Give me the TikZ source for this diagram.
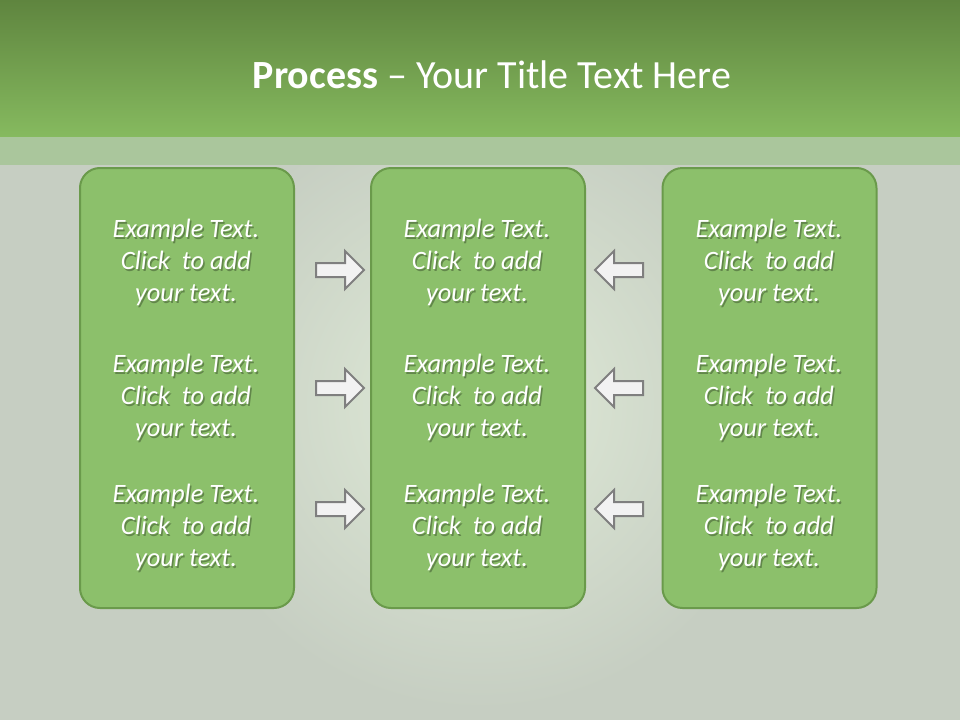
\documentclass[tikz,border=0pt]{standalone}
\usepackage{fontspec}
\setmainfont{Carlito}
\usetikzlibrary{shapes.arrows}
\tikzset{
  panel/.style={draw=panelline,fill=panelfill,line width=2pt,rounded corners=20pt,
    minimum width=214pt,minimum height=440pt,inner sep=0pt},
  bodytext/.style={text=white,align=center,font=\fontsize{26.5}{32}\selectfont\itshape},
  ghosttext/.style={bodytext,text=black,opacity=.3},
  blockarrow/.style={single arrow,draw=arrowline,fill=arrowfill,line width=2pt,
    minimum height=48pt,inner xsep=0pt,inner ysep=6pt,single arrow head extend=12pt},
  titletext/.style={text=white,font=\fontsize{40}{48}\selectfont}
}
\begin{document}
\begin{tikzpicture}[x=1pt,y=-1pt]
\definecolor{bg}{HTML}{C6CEC2}\definecolor{glow}{HTML}{E0EBD8}
\definecolor{bartop}{HTML}{5F853F}\definecolor{barbot}{HTML}{86BA5F}
\definecolor{band}{HTML}{AAC69C}
\definecolor{panelfill}{HTML}{8CC06B}\definecolor{panelline}{HTML}{6A9A4B}
\definecolor{arrowfill}{HTML}{F2F2F2}\definecolor{arrowline}{HTML}{7F7F7F}
\useasboundingbox (0,0) rectangle (960,720);
% background
\fill[bg] (0,0) rectangle (960,720);
\shade[inner color=glow,outer color=bg] (480,405) circle (305);
\shade[top color=bartop,bottom color=barbot] (0,0) rectangle (960,137);
\fill[band] (0,137) rectangle (960,165);
\node[titletext] (title) at (492,75) {\textbf{Process} -- Your Title Text Here};
% panels
\node[panel] (pl) at (187,388) {};
\node[panel] (pm) at (478,388) {};
\node[panel] (pr) at (769.5,388) {};
% texts
\foreach \c/\x in {l/186,m/477,r/769}
  \foreach \r/\y in {1/262,2/397,3/527}{
    \node[ghosttext] at (\x+1.5,\y+2) {Example Text.\\Click~ to add\\your text.};
    \node[bodytext] (t\c\r) at (\x,\y) {Example Text.\\Click~ to add\\your text.};
  }
% arrows
\foreach \r/\y in {1/270,2/388,3/509}{
  \node[blockarrow,anchor=tail] (ar\r) at (315,\y) {};
  \node[blockarrow,shape border rotate=180,anchor=tail] (al\r) at (644,\y) {};
}
\end{tikzpicture}
\end{document}
